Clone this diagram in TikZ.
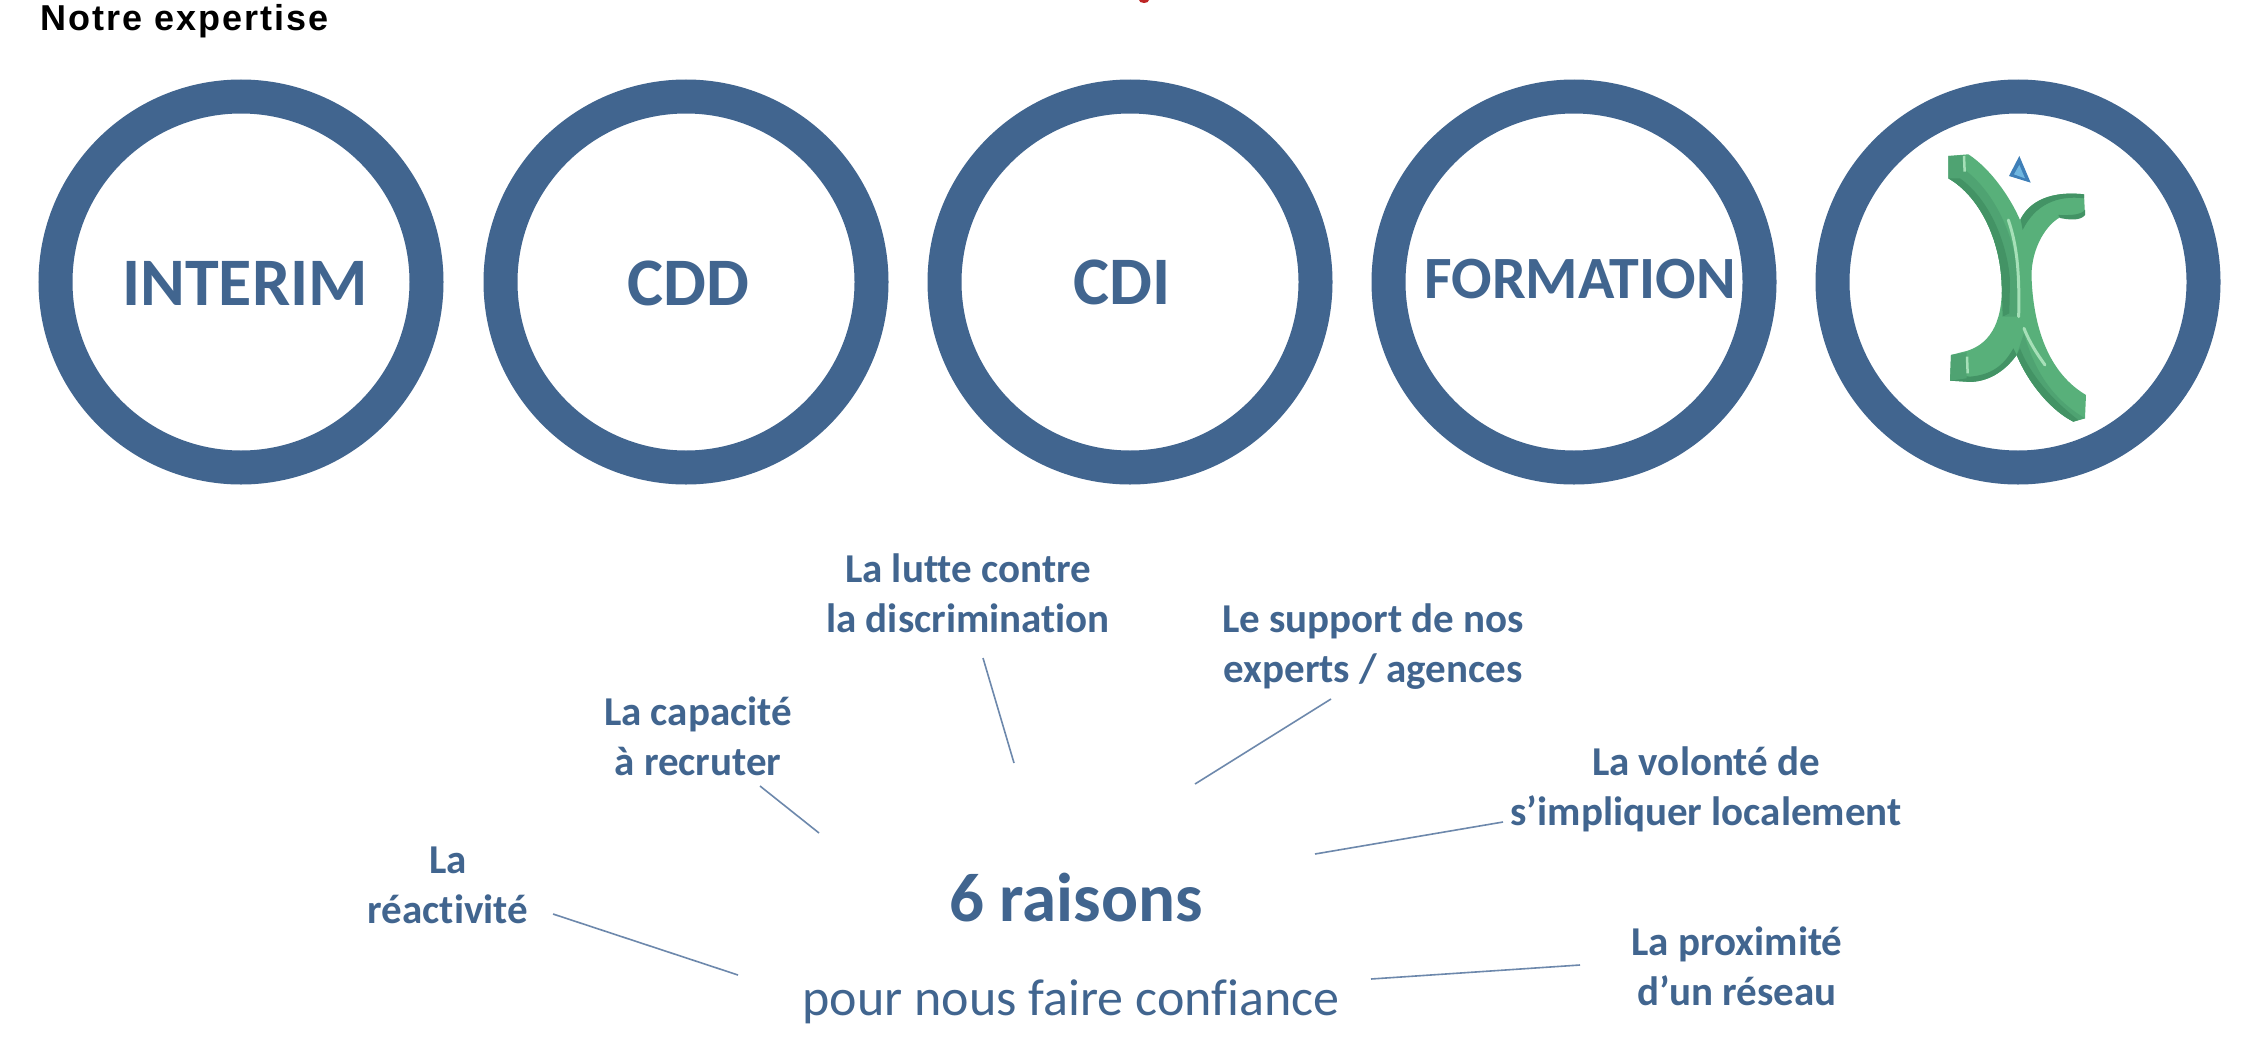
\documentclass[tikz,border=0pt]{standalone}
\usepackage{fontspec}
\setmainfont[Ligatures=NoCommon]{Carlito}
\newfontfamily\titlefont{Liberation Sans}
\definecolor{ringblue}{HTML}{41658F}
\definecolor{linkblue}{HTML}{6D88AC}
\definecolor{greenface}{HTML}{58B07A}
\definecolor{greenmid}{HTML}{4FA372}
\definecolor{greendark}{HTML}{439365}
\definecolor{greenlight}{HTML}{A6E0B8}
\definecolor{triblue}{HTML}{6FB6E0}
\definecolor{tridark}{HTML}{3E7FB8}
\tikzset{
  ring/.style={circle,draw=ringblue,line width=34pt,minimum size=371pt,inner sep=0pt,fill=white},
  ringlabel/.style={inner sep=0pt,anchor=base,text=ringblue,font=\fontsize{68}{68}\selectfont\bfseries},
  reason/.style={inner sep=0pt,text=ringblue,align=center,font=\fontsize{41}{50}\selectfont\bfseries},
  link/.style={draw=linkblue,line width=1.6pt}
}
\begin{document}
\begin{tikzpicture}[x=1pt,y=-1pt]
\useasboundingbox (0,0) rectangle (2250,1060);
\fill[white] (0,0) rectangle (2250,1060);
\fill[red!70!black!85] (1144,0) ellipse (5 and 3);
\node[inner sep=0pt,anchor=base west,font=\titlefont\bfseries\fontsize{36}{36}\selectfont] (title) at (40,30) {\addfontfeature{LetterSpace=5.6}Notre expertise};
\node[ring] (c1) at (241,282) {};
\node[ring] (c2) at (686,282) {};
\node[ring] (c3) at (1130,282) {};
\node[ring] (c4) at (1574,282) {};
\node[ring] (c5) at (2018,282) {};
\node[ringlabel] (interim) at (245,305) {INTERIM};
\node[ringlabel] (cdd) at (688.5,305) {CDD};
\node[ringlabel] (cdi) at (1122,304) {CDI};
\node[ringlabel,font=\fontsize{60}{60}\selectfont\bfseries] (formation) at (1580,298.5) {FORMATION};
\begin{scope}[shift={(1800,50)},x=0.3333pt,y=-0.3333pt]
  % whole silhouette
  \fill[greenface] (445,318) -- (505,313)
     .. controls (570,355) and (630,440) .. (660,510)
     .. controls (680,470) and (730,420) .. (852,433)
     -- (855,495) .. controls (840,512) and (800,505) .. (780,502)
     .. controls (730,530) and (690,610) .. (695,690)
     .. controls (700,800) and (730,960) .. (858,1035)
     -- (855,1105) -- (820,1115)
     .. controls (760,1085) and (690,1010) .. (650,915)
     .. controls (610,970) and (560,995) .. (510,996)
     -- (450,992) -- (453,915) -- (500,903)
     .. controls (560,885) and (610,830) .. (605,700)
     .. controls (600,570) and (540,440) .. (445,385) -- cycle;
  % shaded bands: upper left arc
  \fill[greenmid] (445,385) .. controls (540,440) and (600,570) .. (605,700) -- (612,800)
     -- (655,800) -- (655,690) .. controls (650,590) and (600,440) .. (495,360) -- cycle;
  \fill[greendark] (445,385) .. controls (540,440) and (600,570) .. (605,700) -- (608,800)
     -- (628,790) -- (630,690) .. controls (622,580) and (570,450) .. (480,385) -- cycle;
  % end of upper left arc
  \fill[greenmid] (445,318) -- (490,316) -- (490,375) -- (445,385) -- cycle;
  % upper right arm
  \fill[greendark] (662,508) .. controls (680,470) and (730,420) .. (852,433) -- (852,445)
     .. controls (770,435) and (705,465) .. (668,540) -- cycle;
  \fill[greendark] (855,480) -- (855,495) .. controls (840,515) and (800,508) .. (780,504) -- (775,495) .. controls (800,495) and (840,498) .. (855,480) -- cycle;
  % lower left arm
  \fill[greendark] (450,992) -- (453,975) -- (510,980) .. controls (570,975) and (610,950) .. (640,895) -- (650,915)
     .. controls (610,970) and (560,995) .. (510,996) -- cycle;
  \fill[greenmid] (453,915) -- (500,907) -- (500,985) -- (450,992) -- cycle;
  % lower right arc
  \fill[greenmid] (650,915) .. controls (690,1010) and (760,1085) .. (820,1115) -- (855,1105)
     .. controls (780,1060) and (710,990) .. (672,850) -- cycle;
  \fill[greendark] (650,915) .. controls (690,1010) and (760,1085) .. (820,1115)
     -- (835,1110) .. controls (770,1060) and (695,985) .. (660,895) -- cycle;
  % highlights
  \draw[greenlight,line width=3pt,line cap=round] (625,510) .. controls (645,570) and (660,640) .. (656,800);
  \draw[greenlight,line width=3pt,line cap=round] (672,835) .. controls (690,880) and (710,910) .. (735,945);
  \draw[greenlight,line width=2.5pt] (492,318) -- (494,365);
  \draw[greenlight,line width=2.5pt] (501,920) -- (503,970);
  % triangle
  \fill[tridark] (658,318) -- (692,398) -- (627,378) -- cycle;
  \fill[triblue] (658,345) -- (675,385) -- (642,373) -- cycle;
\end{scope}
\node[reason] (lutte) at (968,593) {La lutte contre\\la discrimination};
\node[reason] (capacite) at (698,736) {La capacité\\à recruter};
\node[reason] (reactivite) at (448,885) {La\\réactivité};
\node[reason] (support) at (1373,647) {Le support de nos\\experts / agences};
\node[reason] (volonte) at (1706,789) {La volonté de\\s’impliquer localement};
\node[reason] (proximite) at (1737,966) {La proximité\\d’un réseau};
\node[inner sep=0pt,text=ringblue,anchor=base,font=\fontsize{69}{69}\selectfont\bfseries] (raisons) at (1076,921) {6 raisons};
\node[inner sep=0pt,text=ringblue,anchor=base,font=\fontsize{52}{52}\selectfont] (confiance) at (1071,1015) {pour nous faire confiance};
\coordinate (e1) at (738,975); \coordinate (s1) at (553,914);
\coordinate (e2) at (819,833); \coordinate (s2) at (760,786);
\coordinate (e3) at (1014,763); \coordinate (s3) at (983,658);
\coordinate (e4) at (1195,784); \coordinate (s4) at (1331,699);
\coordinate (e5) at (1315,854); \coordinate (s5) at (1503,822);
\coordinate (e6) at (1371,979); \coordinate (s6) at (1580,965);
\draw[link] (s1) -- (e1);
\draw[link] (s2) -- (e2);
\draw[link] (s3) -- (e3);
\draw[link] (s4) -- (e4);
\draw[link] (s5) -- (e5);
\draw[link] (s6) -- (e6);
\end{tikzpicture}
\end{document}
